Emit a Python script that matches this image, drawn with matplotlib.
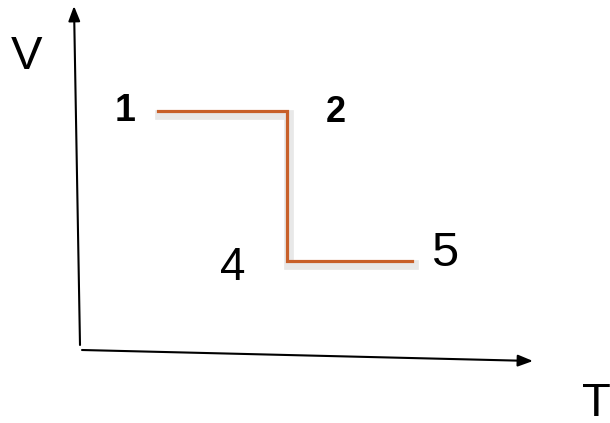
import matplotlib
matplotlib.use("Agg")
import matplotlib.pyplot as plt
import matplotlib.patheffects as pe

plt.rcParams['font.family'] = ['Liberation Sans', 'DejaVu Sans']

# V-T diagram, everything in pixel-like units (y grows downward)
path_T = [158, 287, 287, 412]
path_V = [111, 111, 261, 261]

# state labels: text, position, bold?
labels = ['1', '2', '4', '5']
label_x = [125, 336, 233, 445]
label_y = [111, 112, 268, 254]
label_bold = [True, True, False, False]
label_size = [27, 26, 33, 35]

fig = plt.figure(figsize=(6.1, 4.23), dpi=100)
ax = fig.add_axes([0, 0, 1, 1])
ax.set_xlim(0, 610)
ax.set_ylim(423, 0)
ax.axis('off')

# hand drawn axes (slightly tilted)
arrow = dict(arrowstyle='-|>,head_length=0.9,head_width=0.35', color='black',
             lw=1.5, shrinkA=0, shrinkB=0)
ax.annotate('', xy=(74, 6), xytext=(80, 345), arrowprops=arrow)
ax.annotate('', xy=(533, 361), xytext=(82, 350), arrowprops=arrow)

ax.text(27, 57, 'V', fontsize=34, ha='center', va='center')
ax.text(596, 404, 'T', fontsize=34, ha='center', va='center')

ax.plot(path_T, path_V, color='#C8602A', lw=2.3, solid_joinstyle='miter',
        path_effects=[pe.SimpleLineShadow(offset=(1.5, -3), shadow_color='gray',
                                          alpha=0.18, linewidth=7),
                      pe.Normal()])

for t, x, y, b, s in zip(labels, label_x, label_y, label_bold, label_size):
    ax.text(x, y, t, fontsize=s, fontweight='bold' if b else 'normal',
            ha='center', va='center')

fig.savefig('out.png', dpi=100)
